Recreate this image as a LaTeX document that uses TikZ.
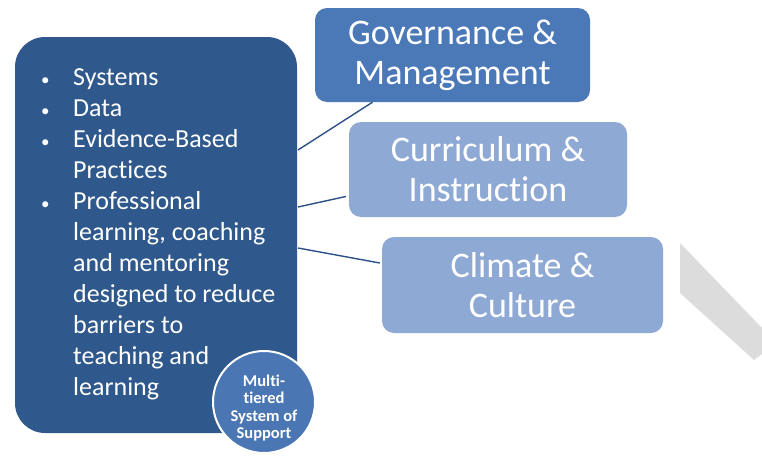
\documentclass[tikz,border=0pt]{standalone}
\usepackage{fontspec}
\setmainfont{Carlito}[Ligatures={NoCommon,NoRare}]
\usetikzlibrary{positioning}
\definecolor{corebox}{RGB}{47,88,140}
\definecolor{govbox}{RGB}{75,121,184}
\definecolor{palebox}{RGB}{143,169,213}
\definecolor{tierdisc}{RGB}{74,118,180}
\definecolor{linkline}{RGB}{45,80,135}
\definecolor{band}{RGB}{220,220,220}
\newcommand{\blt}{\llap{\makebox[32pt][l]{\fontsize{17}{17}\selectfont\textbullet}}}
\begin{document}
\begin{tikzpicture}[x=1pt,y=-1pt,
    area/.style={rounded corners=12pt,inner sep=0pt,text=white,align=center,
        minimum height=95pt,font=\fontsize{36}{40}\selectfont},
    link/.style={draw=linkline,line width=1.4pt}]
    \fill[white] (0,0) rectangle (762,455);
    \useasboundingbox (0,0) rectangle (762,455);
    % grey band on the right
    \fill[band] (680,243) -- (762,328) -- (762,354) -- (754,360) -- (680,293) -- cycle;

    \node[fill=corebox,rounded corners=30pt,minimum width=282pt,minimum height=396pt] (core) at (156,235) {};
    \node[anchor=north west,inner sep=0pt,align=left,text=white,
        font=\fontsize{26}{31}\selectfont] (list) at (73,68) {%
        \blt Systems\\
        \blt Data\\
        \blt Evidence-Based\\
        Practices\\
        \blt Professional\\
        learning, coaching\\
        and mentoring\\
        designed to reduce\\
        barriers to\\
        teaching and\\
        learning};

    \begin{scope}[every node/.style={area}]
        \node[fill=govbox,minimum width=275pt,minimum height=94pt] (gov) at (452.5,55) {Governance \&\\Management};
        \node[fill=palebox,minimum width=278pt] (cur) at (488,169.5) {Curriculum \&\\Instruction};
        \node[fill=palebox,minimum width=281pt,minimum height=96pt] (clim) at (522.5,285) {Climate \&\\Culture};
    \end{scope}

    \coordinate (c1) at (298,150);
    \coordinate (c2) at (298,207);
    \coordinate (c3) at (298,248);
    \path[link] (c1) -- ([xshift=-80pt]gov.south);
    \path[link] (c2) -- ([xshift=-3pt,yshift=-27pt]cur.west);
    \path[link] (c3) -- ([xshift=-2pt,yshift=22pt]clim.west);

    \node[circle,fill=tierdisc,draw=white,line width=2pt,minimum size=102pt,
        inner sep=0pt] (mtss) at (264,402) {};
    \node[align=center,text=white,font=\fontsize{16.5}{17.5}\selectfont\bfseries]
        (mtsslabel) at (264,408) {Multi-\\tiered\\System of\\Support};
\end{tikzpicture}
\end{document}
